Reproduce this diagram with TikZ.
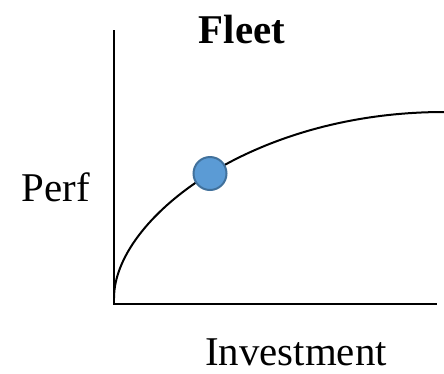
\documentclass[tikz,border=0pt]{standalone}
\usepackage{fontspec}
\setmainfont{Liberation Serif}
\definecolor{dotfill}{HTML}{5B9BD5}
\definecolor{dotline}{HTML}{41719C}
\tikzset{
  axisline/.style={line width=2.2bp, black},
  curveline/.style={line width=2bp, black},
  lbl/.style={anchor=base, inner sep=0pt, font=\fontsize{41}{49}\selectfont},
  dot/.style={circle, fill=dotfill, draw=dotline, line width=2bp, minimum size=33bp, inner sep=0pt}
}
\begin{document}
\begin{tikzpicture}[x=1bp,y=-1bp]
\useasboundingbox (0,0) rectangle (444,373);
\coordinate (ytop) at (114,30);
\coordinate (origin) at (114,304);
\coordinate (xend) at (437,304);
\coordinate (cstart) at (114,298);
\coordinate (cend) at (444,112);
\draw[axisline] (ytop) -- (origin) -- (xend);
\draw[curveline] (cstart) .. controls (114,220) and (250,112) .. (cend);
\node[dot] (pt) at (210,173.5) {};
\node[lbl, font=\fontsize{41}{49}\selectfont\bfseries] (title) at (242,43) {Fleet};
\node[lbl] (ylabel) at (56,201) {Perf};
\node[lbl] (xlabel) at (296,365) {Investment};
\end{tikzpicture}
\end{document}
